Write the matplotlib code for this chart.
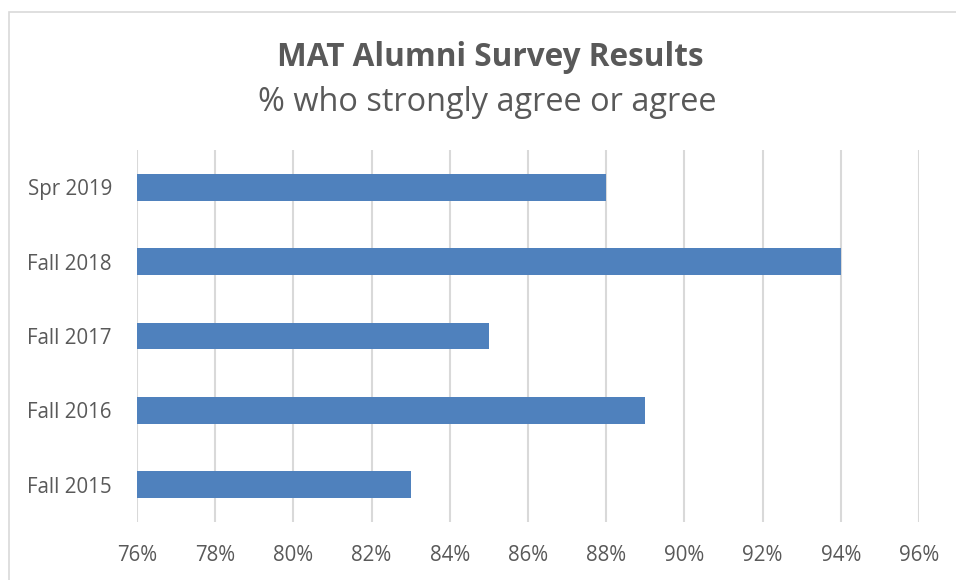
import matplotlib.pyplot as plt
from matplotlib.patches import Rectangle
from matplotlib.ticker import FuncFormatter

categories = ['Fall 2015', 'Fall 2016', 'Fall 2017', 'Fall 2018', 'Spr 2019']
values = [83, 89, 85, 94, 88]
x_ticks = [76, 78, 80, 82, 84, 86, 88, 90, 92, 94, 96]

plt.rcParams['font.family'] = ['Open Sans', 'DejaVu Sans']
text_color = '#595959'

fig = plt.figure(figsize=(9.56, 5.8), dpi=100)
ax = fig.add_axes([0.1433, 0.10, 0.818, 0.6414])

ax.barh(range(len(categories)), values, height=0.36, color='#4F81BD', zorder=3)
ax.set_xlim(76, 96)
ax.set_ylim(-0.5, len(categories) - 0.5)
ax.set_xticks(x_ticks)
ax.xaxis.set_major_formatter(FuncFormatter(lambda v, p: f'{v:.0f}%'))
ax.set_yticks(range(len(categories)))
ax.set_yticklabels(categories)

ax.grid(axis='x', color='#D9D9D9', linewidth=1.5, zorder=0)
for s in ax.spines.values():
    s.set_visible(False)
ax.tick_params(axis='both', length=0, labelsize=14.8, labelcolor=text_color)
ax.tick_params(axis='x', pad=16.5)
ax.tick_params(axis='y', pad=18)

fig.text(0.513, 0.9, 'MAT Alumni Survey Results', ha='center', va='center',
         fontsize=22.7, fontweight='bold', color=text_color)
fig.text(0.51, 0.824, '% who strongly agree or agree', ha='center', va='center',
         fontsize=23.4, color=text_color)

# chart frame
fig.patches.append(Rectangle((9 / 956, -0.05), 1.0, 1.05 - 12 / 580, transform=fig.transFigure,
                             fill=False, edgecolor='#D9D9D9', linewidth=1.2))

fig.savefig('out.png', dpi=100)
